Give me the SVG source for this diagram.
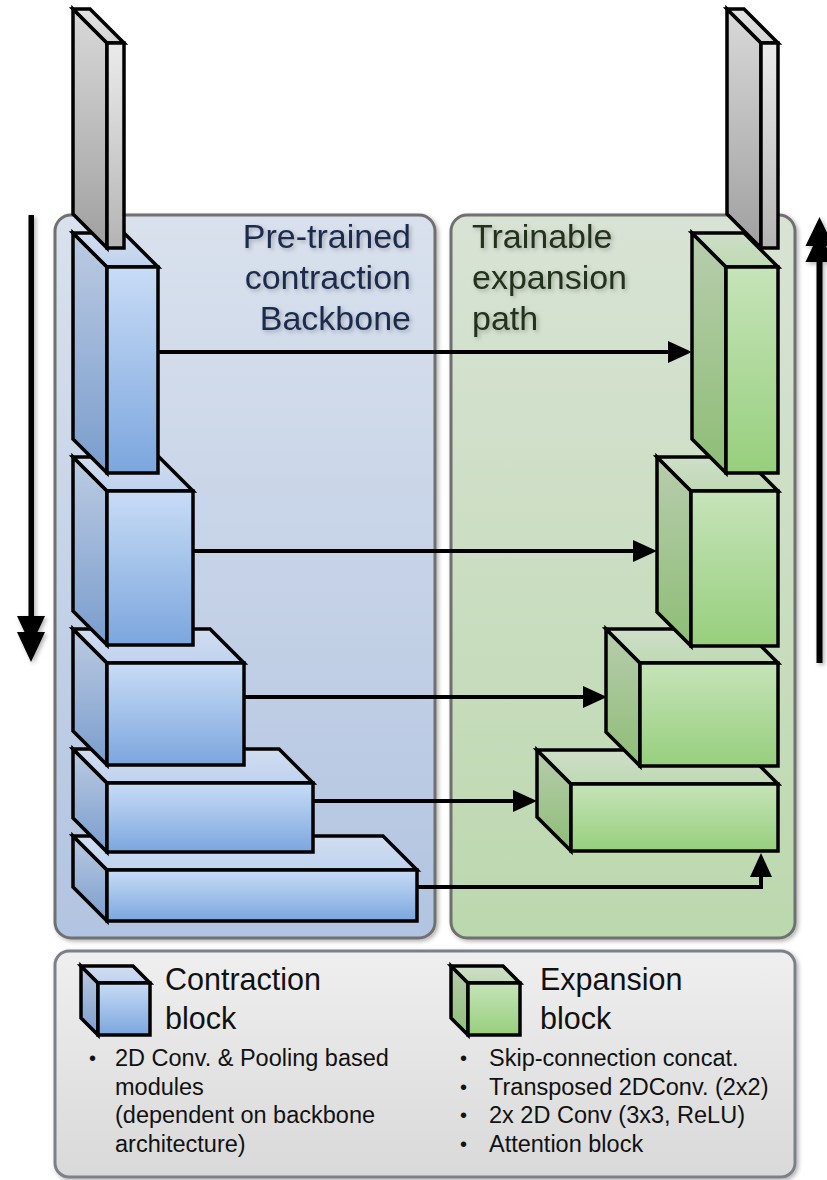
<svg xmlns="http://www.w3.org/2000/svg" width="827" height="1180" viewBox="0 0 827 1180">
  <defs>
    <style>
      .blk { stroke: #000; stroke-width: 3.5; stroke-linejoin: miter; }
      .panel { stroke: #6f6f6f; stroke-width: 3; }
      .conn { fill: none; stroke: #000; stroke-width: 4; }
      .title { font-family: "Liberation Sans", Arial, sans-serif; font-size: 34px; }
      .legh { font-family: "Liberation Sans", Arial, sans-serif; font-size: 30.5px; fill: #111; }
      .legt { font-family: "Liberation Sans", Arial, sans-serif; font-size: 23.5px; fill: #111; }
      .bul { font-family: "Liberation Sans", Arial, sans-serif; font-size: 20px; fill: #111; }
    </style>
    <!-- panel fills -->
    <linearGradient id="gPanelBlue" x1="0" y1="0" x2="0" y2="1">
      <stop offset="0" stop-color="#d9e1ed"/>
      <stop offset="1" stop-color="#b2c4e1"/>
    </linearGradient>
    <linearGradient id="gPanelGreen" x1="0" y1="0" x2="0" y2="1">
      <stop offset="0" stop-color="#d9e3d5"/>
      <stop offset="1" stop-color="#bcd8ae"/>
    </linearGradient>
    <linearGradient id="gPanelGray" x1="0" y1="0" x2="0" y2="1">
      <stop offset="0" stop-color="#efefef"/>
      <stop offset="1" stop-color="#d9d9d9"/>
    </linearGradient>
    <!-- block faces -->
    <linearGradient id="bFront" x1="0" y1="0" x2="0" y2="1">
      <stop offset="0" stop-color="#c8dcf6"/>
      <stop offset="1" stop-color="#7ca6de"/>
    </linearGradient>
    <linearGradient id="bSide" x1="0" y1="0" x2="0" y2="1">
      <stop offset="0" stop-color="#bccbe2"/>
      <stop offset="1" stop-color="#7a9dcd"/>
    </linearGradient>
    <linearGradient id="bTop" x1="0" y1="0" x2="0" y2="1">
      <stop offset="0" stop-color="#d2def0"/>
      <stop offset="1" stop-color="#bfd2ee"/>
    </linearGradient>
    <linearGradient id="gFront" x1="0" y1="0" x2="0" y2="1">
      <stop offset="0" stop-color="#c6e4b9"/>
      <stop offset="1" stop-color="#97cf7d"/>
    </linearGradient>
    <linearGradient id="gSide" x1="0" y1="0" x2="0" y2="1">
      <stop offset="0" stop-color="#b8cdae"/>
      <stop offset="1" stop-color="#8ebd76"/>
    </linearGradient>
    <linearGradient id="gTop" x1="0" y1="0" x2="0" y2="1">
      <stop offset="0" stop-color="#cfdfc9"/>
      <stop offset="1" stop-color="#bfd9b4"/>
    </linearGradient>
    <linearGradient id="sFront" x1="0" y1="0" x2="0" y2="1">
      <stop offset="0" stop-color="#ebebeb"/>
      <stop offset="1" stop-color="#b4b4b4"/>
    </linearGradient>
    <linearGradient id="sSide" x1="0" y1="0" x2="0" y2="1">
      <stop offset="0" stop-color="#d9d9d9"/>
      <stop offset="1" stop-color="#a0a0a0"/>
    </linearGradient>
    <linearGradient id="sTop" x1="0" y1="0" x2="0" y2="1">
      <stop offset="0" stop-color="#e4e4e4"/>
      <stop offset="1" stop-color="#d4d4d4"/>
    </linearGradient>
    <filter id="shadow" x="-5%" y="-5%" width="115%" height="115%">
      <feDropShadow dx="2" dy="2" stdDeviation="2" flood-color="#000" flood-opacity="0.3"/>
    </filter>
    <filter id="tshadow" x="-10%" y="-20%" width="130%" height="150%">
      <feDropShadow dx="2" dy="2" stdDeviation="2" flood-color="#000" flood-opacity="0.25"/>
    </filter>
    <marker id="head" markerUnits="userSpaceOnUse" markerWidth="24" markerHeight="22" refX="12" refY="11" orient="auto">
      <path d="M0,0 L24,11 L0,22 z" fill="#000"/>
    </marker>
  </defs>

  <rect width="827" height="1180" fill="#fff"/>

  <!-- panels -->
  <g id="panel-contraction">
    <rect class="panel" x="55" y="215" width="380" height="723" rx="16" fill="url(#gPanelBlue)" filter="url(#shadow)"/>
    <text class="title" fill="#1b2a4c" text-anchor="end" filter="url(#tshadow)"><tspan x="411" y="248">Pre-trained</tspan><tspan x="411" y="289">contraction</tspan><tspan x="411" y="330">Backbone</tspan></text>
  </g>
  <g id="panel-expansion">
    <rect class="panel" x="451" y="215" width="344" height="723" rx="16" fill="url(#gPanelGreen)" filter="url(#shadow)"/>
    <text class="title" fill="#20301b" filter="url(#tshadow)"><tspan x="472" y="248">Trainable</tspan><tspan x="472" y="289">expansion</tspan><tspan x="472" y="330">path</tspan></text>
  </g>

  <!-- direction arrows -->
  <g id="direction-arrows" filter="url(#shadow)">
    <rect x="28.5" y="215" width="5.5" height="405" fill="#000"/>
    <polygon points="17,616 45,616 37.5,632 45,632 31,662 17,632 24.5,632" fill="#000"/>
    <rect x="816.5" y="258" width="6" height="405" fill="#000"/>
    <polygon points="805.5,262 833.5,262 826,246 833.5,246 819.5,217 805.5,246 813,246" fill="#000"/>
  </g>

  <!-- contraction blocks (drawn bottom-up so upper blocks overlap) -->
  <g id="contraction-5">
    <polygon class="blk" fill="url(#bSide)" points="73,836 107,870 107,921 73,887"/>
    <polygon class="blk" fill="url(#bTop)" points="73,836 383,836 417,870 107,870"/>
    <rect class="blk" fill="url(#bFront)" x="107" y="870" width="310" height="51"/>
  </g>
  <g id="contraction-4">
    <polygon class="blk" fill="url(#bSide)" points="73,749 107,783 107,852 73,818"/>
    <polygon class="blk" fill="url(#bTop)" points="73,749 279,749 313,783 107,783"/>
    <rect class="blk" fill="url(#bFront)" x="107" y="783" width="206" height="69"/>
  </g>
  <g id="contraction-3">
    <polygon class="blk" fill="url(#bSide)" points="73,629 107,663 107,765 73,731"/>
    <polygon class="blk" fill="url(#bTop)" points="73,629 210,629 244,663 107,663"/>
    <rect class="blk" fill="url(#bFront)" x="107" y="663" width="137" height="102"/>
  </g>
  <g id="contraction-2">
    <polygon class="blk" fill="url(#bSide)" points="73,457 107,491 107,645 73,611"/>
    <polygon class="blk" fill="url(#bTop)" points="73,457 159,457 193,491 107,491"/>
    <rect class="blk" fill="url(#bFront)" x="107" y="491" width="86" height="154"/>
  </g>
  <g id="contraction-1">
    <polygon class="blk" fill="url(#bSide)" points="73,233 107,267 107,473 73,439"/>
    <polygon class="blk" fill="url(#bTop)" points="73,233 124,233 158,267 107,267"/>
    <rect class="blk" fill="url(#bFront)" x="107" y="267" width="51" height="206"/>
  </g>
  <g id="input-slab">
    <polygon class="blk" fill="url(#sSide)" points="73,9 107,43 107,248 73,214"/>
    <polygon class="blk" fill="url(#sTop)" points="73,9 90,9 124,43 107,43"/>
    <rect class="blk" fill="url(#sFront)" x="107" y="43" width="17" height="205"/>
  </g>

  <!-- expansion blocks -->
  <g id="expansion-4">
    <polygon class="blk" fill="url(#gSide)" points="537,750 571,784 571,851 537,817"/>
    <polygon class="blk" fill="url(#gTop)" points="537,750 744,750 778,784 571,784"/>
    <rect class="blk" fill="url(#gFront)" x="571" y="784" width="207" height="67"/>
  </g>
  <g id="expansion-3">
    <polygon class="blk" fill="url(#gSide)" points="606,629 640,663 640,766 606,732"/>
    <polygon class="blk" fill="url(#gTop)" points="606,629 744,629 778,663 640,663"/>
    <rect class="blk" fill="url(#gFront)" x="640" y="663" width="138" height="103"/>
  </g>
  <g id="expansion-2">
    <polygon class="blk" fill="url(#gSide)" points="657,457 691,491 691,646 657,612"/>
    <polygon class="blk" fill="url(#gTop)" points="657,457 744,457 778,491 691,491"/>
    <rect class="blk" fill="url(#gFront)" x="691" y="491" width="87" height="155"/>
  </g>
  <g id="expansion-1">
    <polygon class="blk" fill="url(#gSide)" points="692,233 726,267 726,473 692,439"/>
    <polygon class="blk" fill="url(#gTop)" points="692,233 744,233 778,267 726,267"/>
    <rect class="blk" fill="url(#gFront)" x="726" y="267" width="52" height="206"/>
  </g>
  <g id="output-slab">
    <polygon class="blk" fill="url(#sSide)" points="727,9 761,43 761,248 727,214"/>
    <polygon class="blk" fill="url(#sTop)" points="727,9 744,9 778,43 761,43"/>
    <rect class="blk" fill="url(#sFront)" x="761" y="43" width="17" height="205"/>
  </g>

  <!-- skip connections -->
  <g id="connectors">
    <path class="conn" d="M158,352 H680" marker-end="url(#head)"/>
    <path class="conn" d="M193,551 H645" marker-end="url(#head)"/>
    <path class="conn" d="M244,697 H595" marker-end="url(#head)"/>
    <path class="conn" d="M313,801 H525" marker-end="url(#head)"/>
    <path class="conn" d="M417,887 H761 V865" marker-end="url(#head)"/>
  </g>

  <!-- legend -->
  <g id="legend">
    <rect x="55" y="951" width="740" height="226" rx="14" fill="url(#gPanelGray)" stroke="#7b8088" stroke-width="3" filter="url(#shadow)"/>
    <g id="legend-contraction">
      <polygon class="blk" fill="url(#bSide)" points="81,966 98,983 98,1035 81,1018"/>
      <polygon class="blk" fill="url(#bTop)" points="81,966 133,966 150,983 98,983"/>
      <rect class="blk" fill="url(#bFront)" x="98" y="983" width="52" height="52"/>
      <text class="legh"><tspan x="165" y="990">Contraction</tspan><tspan x="165" y="1029">block</tspan></text>
      <text class="bul" x="89" y="1065">•</text>
      <text class="legt"><tspan x="115" y="1066">2D Conv. &amp; Pooling based</tspan><tspan x="115" y="1094.5">modules</tspan><tspan x="115" y="1123">(dependent on backbone</tspan><tspan x="115" y="1151.5">architecture)</tspan></text>
    </g>
    <g id="legend-expansion">
      <polygon class="blk" fill="url(#gSide)" points="451,966 468,983 468,1035 451,1018"/>
      <polygon class="blk" fill="url(#gTop)" points="451,966 503,966 520,983 468,983"/>
      <rect class="blk" fill="url(#gFront)" x="468" y="983" width="52" height="52"/>
      <text class="legh"><tspan x="540" y="990">Expansion</tspan><tspan x="540" y="1029">block</tspan></text>
      <text class="bul"><tspan x="460" y="1065">•</tspan><tspan x="460" y="1093.5">•</tspan><tspan x="460" y="1122">•</tspan><tspan x="460" y="1150.5">•</tspan></text>
      <text class="legt"><tspan x="489" y="1066">Skip-connection concat.</tspan><tspan x="489" y="1094.5">Transposed 2DConv. (2x2)</tspan><tspan x="489" y="1123">2x 2D Conv (3x3, ReLU)</tspan><tspan x="489" y="1151.5">Attention block</tspan></text>
    </g>
  </g>
</svg>
